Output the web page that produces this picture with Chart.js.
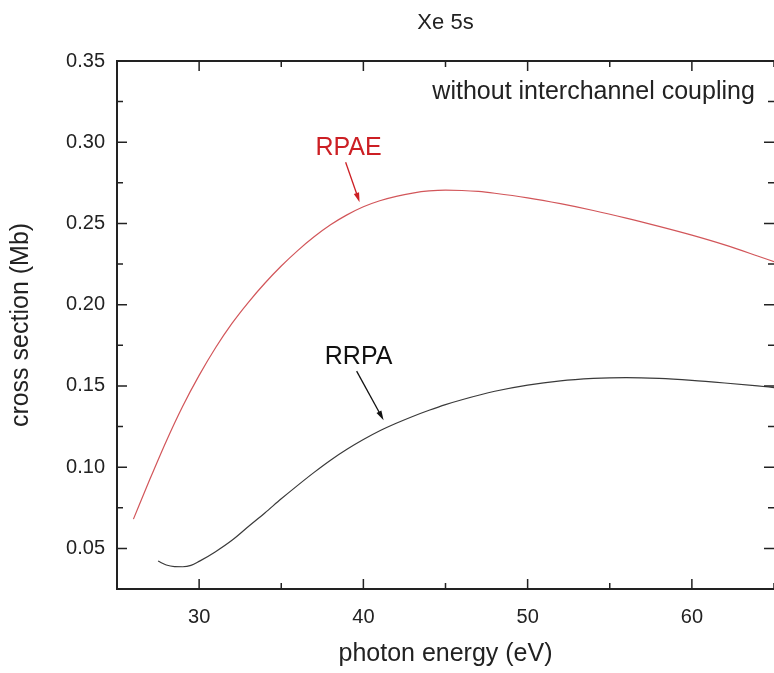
<!DOCTYPE html>
<html>
<head>
<meta charset="utf-8">
<script src="https://cdn.jsdelivr.net/npm/chart.js@4.4.1/dist/chart.umd.min.js"></script>
<style>
  html, body { margin: 0; padding: 0; background: #fff; }
  #wrap { width: 774px; height: 673px; position: relative; }
</style>
</head>
<body>
<div id="wrap"><canvas id="chartXe"></canvas></div>
<script>
// --- DATOS ---
const rpaeEnergy = [26, 27, 28, 29, 30, 31, 32, 33, 34, 35, 36, 37, 38, 39, 40, 41, 42, 43, 44, 45, 46, 47, 48, 50, 52, 54, 56, 58, 60, 62, 64, 65];
const rpaeSigma  = [0.068, 0.0925, 0.116, 0.1375, 0.1565, 0.1735, 0.1885, 0.2015, 0.2132, 0.2238, 0.2333, 0.2418, 0.2492, 0.2553, 0.2603, 0.2640, 0.2667, 0.2687, 0.2700, 0.2705, 0.2703, 0.2697, 0.2686, 0.2658, 0.2622, 0.2580, 0.2533, 0.2482, 0.2428, 0.2368, 0.2300, 0.2265];

const rrpaEnergy = [27.5, 28, 28.5, 29, 29.5, 30, 31, 32, 33, 34, 35, 36, 37, 38, 39, 40, 41, 42, 43, 44, 45, 46, 48, 50, 52, 54, 55, 56, 58, 60, 62, 64, 65];
const rrpaSigma  = [0.0422, 0.0398, 0.0388, 0.0387, 0.0395, 0.042, 0.048, 0.055, 0.0635, 0.0718, 0.0805, 0.0888, 0.0968, 0.1043, 0.111, 0.117, 0.1224, 0.127, 0.1312, 0.135, 0.1385, 0.1415, 0.1467, 0.1505, 0.1531, 0.1546, 0.155, 0.1551, 0.1546, 0.1534, 0.1518, 0.1500, 0.149];

const xTicks = [30, 40, 50, 60];
const xMinor = [25, 35, 45, 55, 65];
const yTicks = [0.05, 0.10, 0.15, 0.20, 0.25, 0.30, 0.35];
const yMinor = [0.025, 0.075, 0.125, 0.175, 0.225, 0.275, 0.325];

const FONT = '"Liberation Sans", Arial, sans-serif';
const INK = '#222';

// marco con ticks hacia adentro + textos
const framePlugin = {
  id: 'frame',
  afterDraw(chart) {
    const { ctx, chartArea: a, scales: { x, y } } = chart;
    ctx.save();
    ctx.strokeStyle = INK;
    ctx.lineWidth = 2;
    ctx.beginPath();
    ctx.moveTo(a.right + 2, a.top);
    ctx.lineTo(a.left, a.top);
    ctx.lineTo(a.left, a.bottom);
    ctx.lineTo(a.right + 2, a.bottom);
    ctx.stroke();

    ctx.lineWidth = 1.5;
    const tickX = (v, len) => {
      const px = x.getPixelForValue(v);
      ctx.beginPath();
      ctx.moveTo(px, a.bottom); ctx.lineTo(px, a.bottom - len);
      ctx.moveTo(px, a.top); ctx.lineTo(px, a.top + len);
      ctx.stroke();
    };
    const tickY = (v, len) => {
      const py = y.getPixelForValue(v);
      ctx.beginPath();
      ctx.moveTo(a.left, py); ctx.lineTo(a.left + len, py);
      ctx.moveTo(a.right, py); ctx.lineTo(a.right - len, py);
      ctx.stroke();
    };
    xTicks.forEach(v => tickX(v, 10));
    xMinor.forEach(v => tickX(v, 6));
    yTicks.forEach(v => tickY(v, 10));
    yMinor.forEach(v => tickY(v, 6));

    // titulo
    ctx.fillStyle = INK;
    ctx.font = '22px ' + FONT;
    ctx.textAlign = 'center';
    ctx.textBaseline = 'middle';
    ctx.fillText('Xe 5s', (a.left + a.right) / 2, 23);

    // anotacion
    ctx.font = '25px ' + FONT;
    ctx.textAlign = 'left';
    ctx.fillText('without interchannel coupling', x.getPixelForValue(44.2), y.getPixelForValue(0.331));

    // etiquetas de curvas con flechas
    const label = (txt, color, lx, ly, x0, y0, x1, y1) => {
      ctx.fillStyle = color;
      ctx.strokeStyle = color;
      ctx.font = '25px ' + FONT;
      ctx.textAlign = 'center';
      ctx.fillText(txt, x.getPixelForValue(lx), y.getPixelForValue(ly));
      const p0 = [x.getPixelForValue(x0), y.getPixelForValue(y0)];
      const p1 = [x.getPixelForValue(x1), y.getPixelForValue(y1)];
      const ang = Math.atan2(p1[1] - p0[1], p1[0] - p0[0]);
      ctx.lineWidth = 1.3;
      ctx.beginPath();
      ctx.moveTo(p0[0], p0[1]);
      ctx.lineTo(p1[0] - 6 * Math.cos(ang), p1[1] - 6 * Math.sin(ang));
      ctx.stroke();
      ctx.beginPath();
      ctx.moveTo(p1[0], p1[1]);
      ctx.lineTo(p1[0] - 10 * Math.cos(ang - 0.28), p1[1] - 10 * Math.sin(ang - 0.28));
      ctx.lineTo(p1[0] - 10 * Math.cos(ang + 0.28), p1[1] - 10 * Math.sin(ang + 0.28));
      ctx.closePath();
      ctx.fill();
    };
    label('RPAE', '#cc1f24', 39.1, 0.2963, 38.92, 0.2877, 39.77, 0.2631);
    label('RRPA', '#111', 39.71, 0.1677, 39.59, 0.1591, 41.23, 0.1289);
    ctx.restore();
  }
};

new Chart(document.getElementById('chartXe'), {
  type: 'scatter',
  data: {
    datasets: [
      {
        label: 'RPAE',
        data: rpaeEnergy.map((e, i) => ({ x: e, y: rpaeSigma[i] })),
        showLine: true,
        borderColor: '#d2565a',
        borderWidth: 1.2,
        pointRadius: 0,
        cubicInterpolationMode: 'monotone'
      },
      {
        label: 'RRPA',
        data: rrpaEnergy.map((e, i) => ({ x: e, y: rrpaSigma[i] })),
        showLine: true,
        borderColor: '#3a3a3a',
        borderWidth: 1.2,
        pointRadius: 0,
        cubicInterpolationMode: 'monotone'
      }
    ]
  },
  options: {
    responsive: true,
    maintainAspectRatio: false,
    animation: false,
    layout: { padding: { top: 61, right: 0, left: 0, bottom: 0 } },
    plugins: {
      legend: { display: false },
      tooltip: { enabled: false }
    },
    scales: {
      x: {
        type: 'linear',
        min: 25,
        max: 65,
        afterBuildTicks: s => { s.ticks = xTicks.map(v => ({ value: v })); },
        afterFit: s => { s.height = 84; },
        grid: { display: false, drawTicks: false },
        border: { display: false },
        ticks: { color: INK, padding: 16, font: { family: FONT, size: 20 } },
        title: { display: true, text: 'photon energy (eV)', color: INK, padding: { top: 20 }, font: { family: FONT, size: 25 } }
      },
      y: {
        type: 'linear',
        min: 0.025,
        max: 0.35,
        afterBuildTicks: s => { s.ticks = yTicks.map(v => ({ value: v })); },
        afterFit: s => { s.width = 117; },
        grid: { display: false, drawTicks: false },
        border: { display: false },
        ticks: { color: INK, padding: 12, font: { family: FONT, size: 20 }, callback: v => v.toFixed(2) },
        title: { display: true, text: 'cross section (Mb)', color: INK, padding: { top: 6, bottom: 4 }, font: { family: FONT, size: 25 } }
      }
    }
  },
  plugins: [framePlugin]
});
</script>
</body>
</html>
